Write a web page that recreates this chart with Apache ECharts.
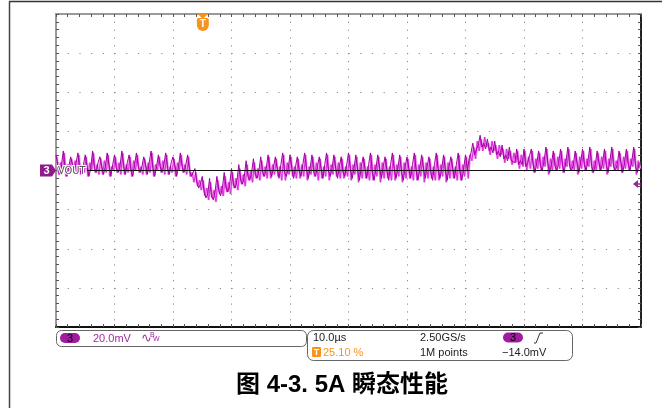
<!DOCTYPE html>
<html><head><meta charset="utf-8">
<script src="https://cdn.jsdelivr.net/npm/echarts@6/dist/echarts.min.js"></script>
<style>html,body{margin:0;padding:0;background:#fff}#c{width:664px;height:408px}</style>
</head><body><div id="c"></div>
<script>
// ---- data ----
const timeRangeUs = [0, 100];
const timeDivUs = 10;
const voltRangeMv = [-80, 80];
const voltDivMv = 20;
const sampleIntervalUs = 0.3125;
const persistOffsetUs = 0.156;
const refLineStartUs = 5.3;
const triggerPositionPct = 25.10;
const channelLabel = '3';
const traceName = 'VOUT';
const readoutVoltsPerDiv = '20.0mV';
const readoutTimePerDiv = '10.0\u00b5s';
const readoutTrigPos = '25.10 %';
const readoutSampleRate = '2.50GS/s';
const readoutRecord = '1M points';
const readoutTrigLevel = '\u221214.0mV';
const titleText = '图 4-3. 5A 瞬态性能';
// VOUT samples (mV, AC coupled), one switching period per group
const voutMv = [
  8,2,-2,3, 10,1,-3,2, 7,3,-1,4, 9,0,-2,3, 8,2,-3,1,
  10,1,-1,4, 7,2,-2,2, 9,3,-3,3, 8,1,-1,2, 10,2,-2,4,
  8,0,-3,3, 9,2,-1,2, 7,3,-2,4, 10,1,-3,2, 8,2,-1,3,
  9,1,-2,4, 7,3,-3,2, 9,2,-1,3, 8,0,-3,-4, 1,-6,-9,-7,
  -3,-11,-14,-12, -4,-13,-15,-11, -3,-10,-13,-9, -1,-9,-11,-7, 1,-7,-9,-5,
  3,-5,-7,-3, 5,-3,-5,-1, 6,-2,-4,0, 7,-1,-3,1, 8,0,-3,2,
  7,1,-4,3, 9,-1,-3,1, 8,1,-4,2, 7,0,-3,3, 9,1,-4,1,
  8,-1,-3,2, 7,1,-4,3, 9,0,-3,1, 8,1,-4,2, 7,-1,-3,3,
  9,1,-4,1, 8,0,-5,2, 7,1,-4,3, 9,-1,-5,1, 8,1,-4,2,
  7,0,-5,3, 9,1,-4,1, 8,-1,-5,2, 7,1,-4,3, 9,0,-5,1,
  8,1,-4,2, 7,-1,-5,3, 9,1,-4,1, 8,0,-5,2, 7,1,-4,3,
  9,-1,-5,1, 8,0,6,9, 14,8,11,13, 18,12,14,11, 16,10,12,9,
  15,8,10,7, 13,6,8,5, 12,5,6,4, 11,3,5,3, 11,2,4,3,
  11,3,-1,4, 10,2,0,5, 12,4,-1,3, 10,2,0,4, 11,3,-1,5,
  12,2,0,3, 10,4,-1,4, 11,3,0,5, 12,2,-1,3, 10,4,0,4,
  11,3,-1,5, 12,2,0,3, 10,4,-1,4, 11,3,0,5, 12,2,-1,4
];
// second (persistence) acquisition of VOUT, mV
const voutPersistMv = [
  7,-2,4,-1, 9,-3,3,0, 6,-1,5,-2, 8,-2,2,-1, 7,-3,4,0,
  9,-1,3,-2, 6,-2,5,-1, 8,-3,2,0, 7,-1,4,-2, 9,-2,3,-1,
  7,-3,5,0, 8,-1,2,-2, 6,-2,4,-1, 9,-3,3,0, 7,-1,5,-2,
  8,-2,2,-1, 6,-3,4,0, 8,-1,3,-2, 7,-3,-1,-6, -1,-8,-5,-10,
  -5,-13,-9,-15, -6,-14,-10,-16, -5,-12,-8,-13, -3,-11,-6,-12, -1,-9,-4,-10,
  1,-7,-2,-8, 3,-5,0,-6, 4,-4,1,-5, 5,-3,2,-4, 7,-4,3,-2,
  6,-3,2,-5, 8,-5,4,-2, 7,-3,2,-4, 6,-4,3,-3, 8,-5,2,-2,
  7,-3,4,-5, 6,-4,2,-3, 8,-5,3,-2, 7,-3,4,-4, 6,-4,2,-3,
  8,-5,3,-2, 7,-6,4,-4, 6,-4,2,-5, 8,-5,3,-3, 7,-6,4,-4,
  6,-4,2,-5, 8,-5,3,-3, 7,-6,4,-4, 6,-4,2,-5, 8,-5,3,-3,
  7,-6,4,-4, 6,-4,2,-5, 8,-5,3,-3, 7,-6,4,-4, 6,-4,2,-5,
  8,-5,3,-3, 7,-4,8,5, 12,6,15,10, 16,10,17,12, 14,8,15,10,
  13,6,13,8, 11,4,11,6, 10,3,9,4, 10,1,8,2, 10,0,7,1,
  10,-1,6,1, 9,0,7,2, 11,-2,6,0, 9,0,7,1, 10,-1,6,2,
  11,0,5,0, 9,-2,7,1, 10,0,6,2, 11,-1,5,0, 9,0,7,1,
  10,-2,6,2, 11,0,5,0, 9,-1,7,1, 10,0,6,2, 11,-2,5,1
];

// ---- chart ----
const chart = echarts.init(document.getElementById('c'), null, {renderer: 'canvas'});
const traceData = voutMv.map((v, i) => [timeRangeUs[0] + i * sampleIntervalUs, v]);
const persistData = voutPersistMv.map((v, i) => [timeRangeUs[0] + persistOffsetUs + i * sampleIntervalUs, v]);
const font = '"Liberation Sans", Arial, sans-serif';
const purple = '#a12aa1';
const badge = '#a11ba1';
const orange = '#f7941d';

function baseAxis(extra) {
  return Object.assign({
    type: 'value',
    axisLabel: {show: false},
    axisTick: {show: true, inside: true, length: 3, lineStyle: {color: '#555', width: 1}},
    minorTick: {show: true, splitNumber: 5, length: 3, lineStyle: {color: '#555', width: 1}},
    splitLine: {show: false}
  }, extra);
}

const option = {
  animation: false,
  backgroundColor: '#fff',
  grid: {left: 56, top: 14, width: 585, height: 313},
  xAxis: [
    baseAxis({position: 'bottom', min: timeRangeUs[0], max: timeRangeUs[1], interval: timeDivUs,
      axisLine: {show: true, onZero: false, lineStyle: {color: '#111', width: 2}},
      splitLine: {show: true, lineStyle: {color: '#8a8a8a', width: 1, type: [1.2, 6.625]}}}),
    baseAxis({position: 'top', min: timeRangeUs[0], max: timeRangeUs[1], interval: timeDivUs,
      axisLine: {show: true, onZero: false, lineStyle: {color: '#9a9a9a', width: 2}}})
  ],
  yAxis: [
    baseAxis({position: 'left', min: voltRangeMv[0], max: voltRangeMv[1], interval: voltDivMv,
      axisLine: {show: true, onZero: false, lineStyle: {color: '#9a9a9a', width: 2}},
      splitLine: {show: true, lineStyle: {color: '#8a8a8a', width: 1, type: [1.2, 10.5]}}}),
    baseAxis({position: 'right', min: voltRangeMv[0], max: voltRangeMv[1], interval: voltDivMv,
      axisLine: {show: true, onZero: false, lineStyle: {color: '#222', width: 2}}})
  ],
  series: [
    {type: 'line', name: 'persistHalo', data: persistData, showSymbol: false, silent: true,
      lineStyle: {color: '#f0a4f0', width: 2.4}, z: 2},
    {type: 'line', name: 'persist', data: persistData, showSymbol: false, silent: true,
      lineStyle: {color: '#de2ede', width: 1}, z: 3},
    {type: 'line', name: traceName, data: traceData, showSymbol: false, silent: true,
      lineStyle: {color: '#a000a0', width: 1}, z: 4},
    {type: 'line', name: 'ref', data: [[refLineStartUs, 0], [timeRangeUs[1], 0]], showSymbol: false, silent: true,
      lineStyle: {color: '#111', width: 1.2}, z: 6}
  ]
};
chart.setOption(option);

const trigX = chart.convertToPixel({xAxisIndex: 0}, timeRangeUs[0] + (timeRangeUs[1] - timeRangeUs[0]) * triggerPositionPct / 100);
const zeroY = chart.convertToPixel({yAxisIndex: 0}, 0);

function txt(x, y, s, color, size, extra) {
  return {type: 'text', x: x, y: y, silent: true, z: 100,
    style: Object.assign({text: s, fill: color, font: (size || 11) + 'px ' + font, verticalAlign: 'middle', align: 'left'}, extra || {})};
}

chart.setOption({graphic: [
  // outer frame
  {type: 'line', shape: {x1: 9, y1: 1.5, x2: 662, y2: 1.5}, style: {stroke: '#333', lineWidth: 1.5}, silent: true},
  {type: 'line', shape: {x1: 9.5, y1: 1, x2: 9.5, y2: 408}, style: {stroke: '#444', lineWidth: 1.5}, silent: true},
  // channel badge on the left
  {type: 'polygon', shape: {points: [[40, zeroY - 6], [52, zeroY - 6], [56, zeroY], [52, zeroY + 6], [40, zeroY + 6]]},
    style: {fill: '#8e1a8e'}, silent: true, z: 100},
  txt(46.5, zeroY + 0.5, channelLabel, '#fff', 11, {align: 'center', font: 'bold 11px ' + font}),
  txt(58, zeroY + 0.5, traceName, '#555', 11, {font: '11px "DejaVu Sans Condensed", "Liberation Sans", sans-serif', stroke: '#fff', lineWidth: 2}),
  // trigger level arrow on the right
  {type: 'polygon', shape: {points: [[633, 184], [638, 180], [638, 188]]}, style: {fill: '#a020a0'}, silent: true, z: 100},
  {type: 'line', shape: {x1: 637, y1: 184, x2: 641, y2: 184}, style: {stroke: '#a020a0', lineWidth: 1.5}, silent: true, z: 100},
  // trigger position marker
  {type: 'polygon', shape: {points: [[trigX - 5, 14], [trigX + 5, 14], [trigX, 19]]}, style: {fill: orange}, silent: true, z: 100},
  {type: 'rect', shape: {x: trigX - 6, y: 18, width: 12, height: 13, r: [2, 2, 6, 6]}, style: {fill: orange}, silent: true, z: 100},
  txt(trigX, 24.5, 'T', '#fff', 10, {align: 'center', font: 'bold 10px ' + font}),
  // readout box 1
  {type: 'rect', shape: {x: 56.5, y: 330.5, width: 250, height: 16, r: 5}, style: {fill: 'none', stroke: '#666', lineWidth: 1}, silent: true, z: 100},
  {type: 'rect', shape: {x: 60, y: 333, width: 20, height: 10, r: 5}, style: {fill: badge}, silent: true, z: 100},
  txt(70, 338.5, channelLabel, '#000', 11, {align: 'center'}),
  txt(93, 338.5, readoutVoltsPerDiv, purple, 11),
  txt(141, 338.5, '\u223f', purple, 13),
  txt(150, 335.5, 'B', purple, 7),
  txt(153, 339.5, 'W', purple, 7),
  // readout box 2
  {type: 'rect', shape: {x: 307.5, y: 330.5, width: 265, height: 30, r: 6}, style: {fill: 'none', stroke: '#666', lineWidth: 1}, silent: true, z: 100},
  txt(313, 338, readoutTimePerDiv, '#222', 11),
  {type: 'rect', shape: {x: 312, y: 347, width: 9, height: 10, r: 1}, style: {fill: orange}, silent: true, z: 100},
  txt(316.5, 352.5, 'T', '#fff', 9, {align: 'center', font: 'bold 9px ' + font}),
  txt(323, 352.5, readoutTrigPos, orange, 11),
  txt(420, 338, readoutSampleRate, '#222', 11),
  txt(420, 352.5, readoutRecord, '#222', 11),
  {type: 'rect', shape: {x: 503, y: 332.5, width: 20, height: 10, r: 5}, style: {fill: badge}, silent: true, z: 100},
  txt(513, 338, channelLabel, '#000', 11, {align: 'center'}),
  {type: 'polyline', shape: {points: [[534, 343], [536, 343], [540, 333], [543, 333]]}, style: {stroke: '#333', lineWidth: 1, fill: 'none'}, silent: true, z: 100},
  txt(502, 352.5, readoutTrigLevel, '#222', 11),
  // caption
  txt(342, 385, titleText, '#000', 24, {align: 'center', font: 'bold 24px "Liberation Sans", Arial, "Noto Sans CJK SC", sans-serif'})
]});
</script>
</body></html>
